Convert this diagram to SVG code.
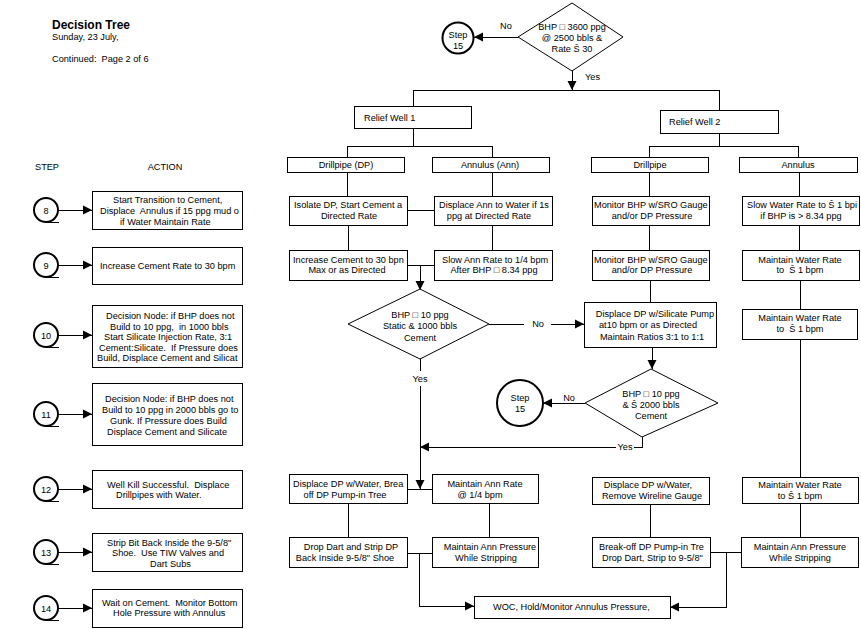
<svg xmlns="http://www.w3.org/2000/svg" width="861" height="629" viewBox="0 0 861 629">
<style>
.b{fill:#fff;stroke:#000;stroke-width:1;shape-rendering:crispEdges}
.t{font-family:"Liberation Sans",Arial,sans-serif;font-size:9.2px;fill:#000;white-space:pre}
.m{text-anchor:middle}
.c{fill:none;stroke:#000;stroke-width:1;shape-rendering:crispEdges}
.a{marker-end:url(#ah)}
.k{fill:#fff;stroke:#000;stroke-width:2}
.d{fill:#fff;stroke:#000;stroke-width:1}
</style>
<defs>
<marker id="ah" markerUnits="userSpaceOnUse" markerWidth="10" markerHeight="10" refX="9" refY="5" orient="auto">
<path d="M0,0.5 L9,5 L0,9.5 z" fill="#000"/>
</marker>
<clipPath id="cA8"><rect x="92" y="191" width="150" height="38"/></clipPath>
<clipPath id="cA10"><rect x="92" y="305" width="150" height="62"/></clipPath>
<clipPath id="cA14"><rect x="92" y="589" width="150" height="38"/></clipPath>
<clipPath id="cIso"><rect x="289" y="196" width="118" height="29"/></clipPath>
<clipPath id="cDA"><rect x="434" y="196" width="118" height="29"/></clipPath>
<clipPath id="cInc"><rect x="289" y="250" width="118" height="30"/></clipPath>
<clipPath id="cSA"><rect x="434" y="250" width="118" height="30"/></clipPath>
<clipPath id="cM1"><rect x="592" y="196" width="117" height="29"/></clipPath>
<clipPath id="cSW"><rect x="742" y="196" width="117" height="29"/></clipPath>
<clipPath id="cM2"><rect x="592" y="250" width="117" height="30"/></clipPath>
<clipPath id="cDW"><rect x="289" y="474" width="118" height="29"/></clipPath>
<clipPath id="cBk"><rect x="592" y="537" width="118" height="30"/></clipPath>
</defs>
<rect width="861" height="629" fill="#fff"/>

<g id="header">
<text class="t" x="52" y="29" style="font-size:12px;font-weight:bold">Decision Tree</text>
<text class="t" x="52" y="40">Sunday, 23 July,</text>
<text class="t" x="52" y="62">Continued:  Page 2 of 6</text>
<text class="t" x="35" y="170">STEP</text>
<text class="t m" x="165" y="170">ACTION</text>
</g>

<g id="connectors">
<path class="c a" d="M518,37 H474"/>
<path class="c a" d="M572,71 V90"/>
<path class="c" d="M413,106 V90 H719 V110"/>
<path class="c" d="M413,128 V146 M347,157 V146 H492 V157"/>
<path class="c" d="M719,133 V146 M649,157 V146 H798 V157"/>
<path class="c" d="M347,172 V196 M348,225 V250 M492,172 V196 M492,225 V250"/>
<path class="c" d="M407,210 H434 M407,265 H434"/>
<path class="c a" d="M420,265 V290"/>
<path class="c" d="M489,324 H524"/>
<path class="c a" d="M551,324 H584"/>
<path class="c" d="M420,359 V371"/>
<path class="c a" d="M420,386 V489"/>
<path class="c" d="M642,437 V447 H634"/>
<path class="c a" d="M616,447 H420"/>
<path class="c" d="M649,172 V196 M649,225 V250 M650,280 V302 M799,172 V196 M799,225 V250 M800,280 V309 M800,339 V477"/>
<path class="c a" d="M652,347 V369"/>
<path class="c a" d="M585,403 H543"/>
<path class="c" d="M348,503 V537 M489,503 V537 M407,489 H432 M407,553 H432"/>
<path class="c a" d="M419,553 V606 H474"/>
<path class="c" d="M650,504 V537 M800,503 V537 M710,552 H741"/>
<path class="c a" d="M726,552 V607 H670"/>
<path class="c a" d="M58,210 H92"/>
<path class="c a" d="M58,265 H92"/>
<path class="c a" d="M58,335 H92"/>
<path class="c a" d="M58,414 H92"/>
<path class="c a" d="M58,489 H92"/>
<path class="c a" d="M58,552 H92"/>
<path class="c a" d="M58,608 H92"/>
<text class="t" x="500" y="29">No</text>
<text class="t" x="585" y="80">Yes</text>
<text class="t m" x="538" y="327">No</text>
<text class="t m" x="420" y="382">Yes</text>
<text class="t m" x="625" y="450">Yes</text>
<text class="t m" x="569" y="401">No</text>
</g>

<g id="decision-top">
<polygon class="d" points="572,3 623,37 572,71 518,37"/>
<text class="t m" x="572" y="30">BHP □ 3600 ppg</text>
<text class="t m" x="572" y="41">@ 2500 bbls &amp;</text>
<text class="t m" x="572" y="52">Rate Š 30</text>
</g>
<g id="step15-top">
<circle class="k" cx="458" cy="38" r="15.5"/>
<text class="t m" x="458" y="38">Step</text>
<text class="t m" x="458" y="49">15</text>
</g>

<g id="relief-well-1"><rect class="b" x="354" y="106" width="117" height="22"/><text class="t" x="364" y="121">Relief Well 1</text></g>
<g id="relief-well-2"><rect class="b" x="660" y="110" width="118" height="23"/><text class="t" x="669" y="125">Relief Well 2</text></g>
<g id="rw1-drillpipe"><rect class="b" x="287" y="157" width="117" height="15"/><text class="t m" x="346" y="168">Drillpipe (DP)</text></g>
<g id="rw1-annulus"><rect class="b" x="432" y="157" width="117" height="15"/><text class="t m" x="490" y="168">Annulus (Ann)</text></g>
<g id="rw2-drillpipe"><rect class="b" x="591" y="157" width="117" height="15"/><text class="t m" x="650" y="168">Drillpipe</text></g>
<g id="rw2-annulus"><rect class="b" x="739" y="157" width="118" height="15"/><text class="t m" x="798" y="168">Annulus</text></g>

<g id="isolate-dp"><rect class="b" x="289" y="196" width="118" height="29"/>
<g clip-path="url(#cIso)"><text class="t" x="294" y="208">Isolate DP, Start Cement a</text></g>
<text class="t m" x="349" y="219">Directed Rate</text></g>
<g id="displace-ann"><rect class="b" x="434" y="196" width="118" height="29"/>
<g clip-path="url(#cDA)"><text class="t" x="439" y="208">Displace Ann to Water if 1s</text></g>
<text class="t m" x="489" y="219">ppg at Directed Rate</text></g>
<g id="increase-cement"><rect class="b" x="289" y="250" width="118" height="30"/>
<g clip-path="url(#cInc)"><text class="t" x="293" y="263">Increase Cement to 30 bpn</text></g>
<text class="t m" x="347" y="273">Max or as Directed</text></g>
<g id="slow-ann"><rect class="b" x="434" y="250" width="118" height="30"/>
<g clip-path="url(#cSA)"><text class="t" x="442" y="263">Slow Ann Rate to 1/4 bpm</text></g>
<text class="t m" x="494" y="273">After BHP □ 8.34 ppg</text></g>

<g id="monitor-1"><rect class="b" x="592" y="196" width="117" height="29"/>
<g clip-path="url(#cM1)"><text class="t" x="594" y="208">Monitor BHP w/SRO Gauge</text></g>
<text class="t m" x="652" y="219">and/or DP Pressure</text></g>
<g id="slow-water"><rect class="b" x="742" y="196" width="117" height="29"/>
<g clip-path="url(#cSW)"><text class="t" x="747" y="208">Slow Water Rate to Š 1 bpi</text></g>
<text class="t m" x="801" y="219">if BHP is &gt; 8.34 ppg</text></g>
<g id="monitor-2"><rect class="b" x="592" y="250" width="117" height="30"/>
<g clip-path="url(#cM2)"><text class="t" x="594" y="263">Monitor BHP w/SRO Gauge</text></g>
<text class="t m" x="652" y="273">and/or DP Pressure</text></g>
<g id="maintain-water-1"><rect class="b" x="742" y="250" width="117" height="30"/>
<text class="t m" x="800" y="263">Maintain Water Rate</text>
<text class="t m" x="800" y="273">to  Š 1 bpm</text></g>

<g id="decision-1000"><polygon class="d" points="420,289 489,324 420,359 348,324"/>
<text class="t m" x="420" y="318">BHP □ 10 ppg</text>
<text class="t m" x="420" y="329">Static &amp; 1000 bbls</text>
<text class="t m" x="420" y="341">Cement</text></g>

<g id="displace-silicate"><rect class="b" x="584" y="302" width="132" height="45"/>
<text class="t m" x="655" y="317">Displace DP w/Silicate Pump</text>
<text class="t m" x="648" y="328">at10 bpm or as Directed</text>
<text class="t m" x="652" y="340">Maintain Ratios 3:1 to 1:1</text></g>
<g id="maintain-water-2"><rect class="b" x="742" y="309" width="115" height="30"/>
<text class="t m" x="800" y="321">Maintain Water Rate</text>
<text class="t m" x="800" y="332">to  Š 1 bpm</text></g>

<g id="decision-2000"><polygon class="d" points="651,369 718,403 642,437 585,403"/>
<text class="t m" x="651" y="397">BHP □ 10 ppg</text>
<text class="t m" x="651" y="408">&amp; Š 2000 bbls</text>
<text class="t m" x="651" y="419">Cement</text></g>
<g id="step15-mid"><circle class="k" cx="520" cy="403" r="23"/>
<text class="t m" x="520" y="401">Step</text>
<text class="t m" x="520" y="412">15</text></g>

<g id="displace-dp-water"><rect class="b" x="289" y="474" width="118" height="29"/>
<g clip-path="url(#cDW)"><text class="t" x="293" y="487">Displace DP w/Water, Brea</text></g>
<text class="t m" x="345" y="498">off DP Pump-in Tree</text></g>
<g id="maintain-ann-rate"><rect class="b" x="432" y="474" width="106" height="29"/>
<text class="t m" x="485" y="487">Maintain Ann Rate</text>
<text class="t m" x="480" y="498">@ 1/4 bpm</text></g>
<g id="drop-dart"><rect class="b" x="289" y="537" width="118" height="30"/>
<text class="t m" x="351" y="550">Drop Dart and Strip DP</text>
<text class="t m" x="345" y="561">Back Inside 9-5/8" Shoe</text></g>
<g id="maintain-ann-pressure-1"><rect class="b" x="432" y="537" width="106" height="30"/>
<text class="t m" x="490" y="550">Maintain Ann Pressure</text>
<text class="t m" x="486" y="561">While Stripping</text></g>

<g id="displace-dp-water-2"><rect class="b" x="592" y="477" width="117" height="27"/>
<text class="t m" x="648" y="488">Displace DP w/Water,</text>
<text class="t m" x="652" y="499">Remove Wireline Gauge</text></g>
<g id="maintain-water-3"><rect class="b" x="742" y="477" width="116" height="26"/>
<text class="t m" x="800" y="488">Maintain Water Rate</text>
<text class="t m" x="800" y="499">to Š 1 bpm</text></g>
<g id="break-off"><rect class="b" x="592" y="537" width="118" height="30"/>
<g clip-path="url(#cBk)"><text class="t" x="599" y="550">Break-off DP Pump-in Tre</text>
<text class="t" x="602" y="561">Drop Dart, Strip to 9-5/8"</text></g></g>
<g id="maintain-ann-pressure-2"><rect class="b" x="741" y="537" width="117" height="30"/>
<text class="t m" x="800" y="550">Maintain Ann Pressure</text>
<text class="t m" x="800" y="561">While Stripping</text></g>

<g id="woc"><rect class="b" x="474" y="596" width="196" height="22"/>
<text class="t" x="493" y="610">WOC, Hold/Monitor Annulus Pressure,</text></g>

<g id="step-8"><circle class="k" cx="46" cy="210" r="12"/><path class="c" d="M46,222 H59"/><text class="t m" x="46" y="213.5">8</text></g>
<g id="step-9"><circle class="k" cx="46" cy="265" r="12"/><path class="c" d="M46,277 H59"/><text class="t m" x="46" y="268.5">9</text></g>
<g id="step-10"><circle class="k" cx="46" cy="335" r="12"/><path class="c" d="M46,347 H59"/><text class="t m" x="46" y="338.5">10</text></g>
<g id="step-11"><circle class="k" cx="46" cy="414" r="12"/><path class="c" d="M46,426 H59"/><text class="t m" x="46" y="417.5">11</text></g>
<g id="step-12"><circle class="k" cx="46" cy="489" r="12"/><path class="c" d="M46,501 H59"/><text class="t m" x="46" y="492.5">12</text></g>
<g id="step-13"><circle class="k" cx="46" cy="552" r="12"/><path class="c" d="M46,564 H59"/><text class="t m" x="46" y="555.5">13</text></g>
<g id="step-14"><circle class="k" cx="46" cy="608" r="12"/><path class="c" d="M46,620 H59"/><text class="t m" x="46" y="611.5">14</text></g>

<g id="action-8"><rect class="b" x="92" y="191" width="150" height="38"/>
<g clip-path="url(#cA8)">
<text class="t" x="113" y="203">Start Transition to Cement,</text>
<text class="t" x="100" y="214">Displace  Annulus if 15 ppg mud o</text>
<text class="t" x="120" y="225">if Water Maintain Rate</text></g></g>
<g id="action-9"><rect class="b" x="92" y="247" width="150" height="37"/>
<text class="t" x="100" y="269">Increase Cement Rate to 30 bpm</text></g>
<g id="action-10"><rect class="b" x="92" y="305" width="150" height="62"/>
<g clip-path="url(#cA10)">
<text class="t" x="106" y="319">Decision Node: if BHP does not</text>
<text class="t" x="110" y="330">Build to 10 ppg,  in 1000 bbls</text>
<text class="t" x="104" y="340">Start Silicate Injection Rate, 3:1</text>
<text class="t" x="99" y="351">Cement:Silicate.  If Pressure does</text>
<text class="t" x="97" y="361">Build, Displace Cement and Silicat</text></g></g>
<g id="action-11"><rect class="b" x="92" y="383" width="150" height="62"/>
<text class="t" x="105" y="402">Decision Node: if BHP does not</text>
<text class="t" x="102" y="413">Build to 10 ppg in 2000 bbls go to</text>
<text class="t" x="110" y="424">Gunk. If Pressure does Build</text>
<text class="t" x="107" y="435">Displace Cement and Silicate</text></g>
<g id="action-12"><rect class="b" x="92" y="470" width="150" height="38"/>
<text class="t" x="107" y="488">Well Kill Successful.  Displace</text>
<text class="t" x="116" y="498">Drillpipes with Water.</text></g>
<g id="action-13"><rect class="b" x="92" y="533" width="150" height="38"/>
<text class="t" x="107" y="546">Strip Bit Back Inside the 9-5/8"</text>
<text class="t" x="112" y="556">Shoe.  Use TIW Valves and</text>
<text class="t" x="150" y="567">Dart Subs</text></g>
<g id="action-14"><rect class="b" x="92" y="589" width="150" height="38"/>
<g clip-path="url(#cA14)">
<text class="t" x="102" y="606">Wait on Cement.  Monitor Bottom</text>
<text class="t" x="113" y="616">Hole Pressure with Annulus</text></g></g>
</svg>
